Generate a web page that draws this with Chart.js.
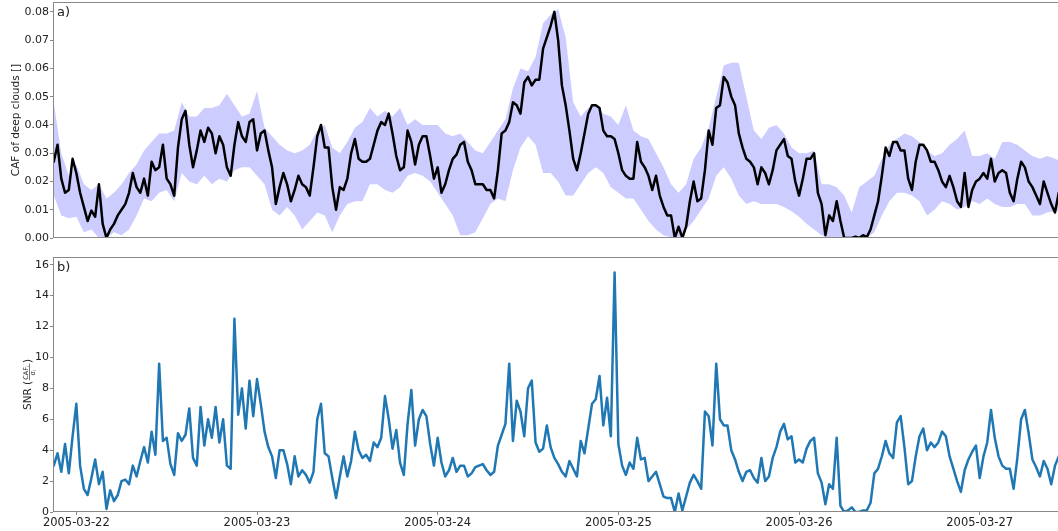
<!DOCTYPE html>
<html>
<head>
<meta charset="utf-8">
<script src="https://cdn.jsdelivr.net/npm/chart.js@4.4.1/dist/chart.umd.min.js"></script>
<style>
  html, body { margin: 0; padding: 0; background: #fff; }
  #wrap { position: relative; width: 1058px; height: 531px; overflow: hidden; }
  canvas { position: absolute; left: 0; }
</style>
</head>
<body>
<div id="wrap">
  <canvas id="cafChart" width="1058" height="266" style="top:0"></canvas>
  <canvas id="snrChart" width="1058" height="281" style="top:250px"></canvas>
</div>
<script>
// hours counted from 2005-03-22 00:00
const firstHour = -3;
const lineStep = 0.5;   // mean CAF and SNR: every 30 min
const bandStep = 1;     // spread band: hourly

// mean CAF of deep clouds (black line)
const cafMean = [
  0.027, 0.033, 0.021, 0.016, 0.017, 0.028, 0.023, 0.016, 0.011, 0.006,
  0.0097, 0.0075, 0.019, 0.005, 0.000, 0.003, 0.005, 0.008, 0.010, 0.012,
  0.016, 0.023, 0.018, 0.016, 0.021, 0.015, 0.027, 0.024, 0.025, 0.033,
  0.021, 0.019, 0.015, 0.032, 0.042, 0.045, 0.033, 0.025, 0.031, 0.038,
  0.034, 0.039, 0.037, 0.030, 0.036, 0.033, 0.025, 0.022, 0.033, 0.041,
  0.036, 0.034, 0.041, 0.042, 0.031, 0.037, 0.038, 0.031, 0.025, 0.012,
  0.018, 0.023, 0.019, 0.013, 0.017, 0.022, 0.019, 0.018, 0.015, 0.025,
  0.036, 0.040, 0.032, 0.032, 0.018, 0.010, 0.018, 0.017, 0.021, 0.030,
  0.035, 0.028, 0.027, 0.027, 0.028, 0.033, 0.038, 0.041, 0.040, 0.044,
  0.037, 0.029, 0.024, 0.025, 0.038, 0.034, 0.026, 0.033, 0.036, 0.036,
  0.029, 0.021, 0.025, 0.016, 0.019, 0.024, 0.028, 0.0295, 0.033, 0.034,
  0.027, 0.024, 0.019, 0.019, 0.019, 0.017, 0.017, 0.014, 0.024, 0.037,
  0.038, 0.041, 0.048, 0.047, 0.044, 0.055, 0.057, 0.054, 0.056, 0.056,
  0.067, 0.071, 0.075, 0.080, 0.070, 0.054, 0.047, 0.038, 0.028, 0.024,
  0.030, 0.037, 0.044, 0.047, 0.047, 0.046, 0.038, 0.036, 0.036, 0.035,
  0.030, 0.024, 0.022, 0.021, 0.021, 0.034, 0.027, 0.025, 0.022, 0.017,
  0.022, 0.015, 0.011, 0.008, 0.008, 0.000, 0.004, 0.000, 0.004, 0.013,
  0.020, 0.013, 0.014, 0.024, 0.038, 0.033, 0.046, 0.047, 0.057, 0.055,
  0.050, 0.047, 0.037, 0.032, 0.028, 0.027, 0.025, 0.019, 0.025, 0.023,
  0.019, 0.024, 0.031, 0.033, 0.035, 0.029, 0.028, 0.020, 0.015, 0.021,
  0.028, 0.028, 0.030, 0.016, 0.012, 0.001, 0.008, 0.006, 0.013, 0.006,
  0.000, 0.000, 0.000, 0.0005, 0.000, 0.001, 0.0003, 0.003, 0.008, 0.013,
  0.022, 0.032, 0.029, 0.034, 0.034, 0.031, 0.031, 0.021, 0.017, 0.027,
  0.033, 0.033, 0.031, 0.027, 0.027, 0.024, 0.020, 0.018, 0.022, 0.018,
  0.013, 0.011, 0.023, 0.011, 0.017, 0.020, 0.021, 0.023, 0.021, 0.028,
  0.020, 0.023, 0.024, 0.023, 0.016, 0.013, 0.021, 0.027, 0.025, 0.020,
  0.018, 0.015, 0.012, 0.020, 0.016, 0.012, 0.009, 0.016, 0.016
];

// spread band of CAF (light blue)
const cafUpper = [
  0.048, 0.030, 0.022, 0.026, 0.019, 0.017, 0.019, 0.014, 0.016, 0.019,
  0.023, 0.026, 0.031, 0.034, 0.037, 0.037, 0.038, 0.048, 0.043, 0.043,
  0.046, 0.046, 0.047, 0.051, 0.047, 0.043, 0.044, 0.052, 0.039, 0.036,
  0.033, 0.031, 0.030, 0.031, 0.033, 0.038, 0.040, 0.032, 0.030, 0.034,
  0.039, 0.041, 0.046, 0.043, 0.045, 0.043, 0.046, 0.040, 0.042, 0.040,
  0.040, 0.040, 0.037, 0.036, 0.037, 0.034, 0.031, 0.030, 0.034, 0.038,
  0.042, 0.053, 0.060, 0.059, 0.064, 0.076, 0.079, 0.081, 0.071, 0.048,
  0.043, 0.046, 0.047, 0.044, 0.043, 0.040, 0.047, 0.038, 0.036, 0.035,
  0.030, 0.025, 0.019, 0.016, 0.019, 0.028, 0.032, 0.039, 0.050, 0.061,
  0.062, 0.062, 0.050, 0.038, 0.035, 0.039, 0.040, 0.037, 0.032, 0.030,
  0.030, 0.031, 0.019, 0.019, 0.018, 0.015, 0.009, 0.018, 0.020, 0.022,
  0.028, 0.033, 0.035, 0.037, 0.036, 0.034, 0.031, 0.029, 0.030, 0.033,
  0.035, 0.038, 0.029, 0.029, 0.030, 0.028, 0.034, 0.034, 0.033, 0.031,
  0.029, 0.028, 0.029, 0.028, 0.027
];
const cafLower = [
  0.015, 0.008, 0.007, 0.0075, 0.002, 0.003, 0.000, 0.000, 0.002, 0.001,
  0.003, 0.008, 0.014, 0.013, 0.016, 0.017, 0.013, 0.023, 0.020, 0.019,
  0.022, 0.019, 0.021, 0.020, 0.024, 0.025, 0.025, 0.022, 0.019, 0.010,
  0.008, 0.011, 0.008, 0.003, 0.006, 0.009, 0.008, 0.002, 0.008, 0.012,
  0.013, 0.013, 0.019, 0.019, 0.017, 0.016, 0.018, 0.022, 0.023, 0.022,
  0.020, 0.016, 0.012, 0.008, 0.001, 0.001, 0.002, 0.007, 0.012, 0.014,
  0.013, 0.024, 0.032, 0.036, 0.033, 0.023, 0.023, 0.020, 0.015, 0.015,
  0.019, 0.023, 0.025, 0.023, 0.018, 0.016, 0.014, 0.014, 0.010, 0.006,
  0.003, 0.001, 0.0003, 0.000, 0.003, 0.006, 0.010, 0.014, 0.022, 0.025,
  0.021, 0.015, 0.012, 0.013, 0.012, 0.012, 0.012, 0.011, 0.0095, 0.0075,
  0.005, 0.003, 0.001, 0.000, 0.000, 0.000, 0.000, 0.000, 0.000, 0.002,
  0.008, 0.013, 0.016, 0.016, 0.015, 0.013, 0.008, 0.010, 0.013, 0.012,
  0.010, 0.011, 0.013, 0.012, 0.014, 0.012, 0.011, 0.011, 0.012, 0.012,
  0.008, 0.008, 0.009, 0.0095, 0.0095
];

// signal to noise ratio (blue line)
const snr = [
  3.0, 3.8, 2.6, 4.4, 2.5, 4.9, 7.0, 3.0, 1.5, 1.1,
  2.2, 3.4, 1.8, 2.6, 0.2, 1.4, 0.7, 1.1, 2.0, 2.1,
  1.8, 3.0, 2.3, 3.3, 4.2, 3.2, 5.2, 3.7, 9.6, 4.6,
  4.8, 3.1, 2.4, 5.1, 4.6, 5.0, 6.7, 3.5, 3.0, 6.8,
  4.3, 6.0, 4.8, 6.8, 4.5, 6.0, 3.0, 2.8, 12.5, 6.3,
  8.0, 5.4, 8.5, 6.2, 8.6, 7.0, 5.2, 4.2, 3.6, 2.2,
  4.0, 4.0, 3.1, 1.8, 3.6, 2.3, 2.7, 2.4, 1.9, 2.6,
  6.0, 7.0, 3.8, 3.6, 2.2, 0.9, 2.3, 3.6, 2.3, 3.3,
  5.2, 4.0, 3.5, 3.7, 3.3, 4.5, 4.2, 4.8, 7.5, 6.0,
  4.1, 5.3, 3.2, 2.4, 5.7, 7.9, 4.3, 6.0, 6.6, 6.2,
  4.4, 3.0, 4.8, 3.2, 2.3, 2.7, 3.5, 2.6, 3.0, 3.0,
  2.3, 2.5, 2.9, 3.0, 3.1, 2.7, 2.4, 2.6, 4.3, 5.0,
  5.7, 9.6, 4.6, 7.2, 6.5, 4.9, 8.0, 8.5, 4.5, 3.9,
  4.1, 5.6, 4.2, 3.5, 3.1, 2.6, 2.3, 3.3, 2.8, 2.3,
  4.6, 3.8, 5.4, 7.0, 7.3, 8.8, 5.6, 7.4, 4.9, 15.5,
  4.4, 3.0, 2.4, 3.2, 2.8, 4.8, 3.4, 3.5, 2.0, 2.3,
  2.6, 1.8, 1.0, 0.9, 0.9, 0.0, 1.2, 0.1, 1.0, 1.9,
  2.4, 2.0, 1.5, 6.5, 6.2, 4.3, 9.6, 6.0, 5.6, 5.6,
  4.0, 3.4, 2.6, 2.0, 2.6, 2.7, 2.2, 1.9, 3.5, 2.0,
  2.3, 3.5, 4.2, 5.2, 5.7, 4.7, 4.9, 3.2, 3.4, 3.2,
  4.1, 4.6, 4.8, 2.5, 1.9, 0.5, 1.8, 1.5, 4.8, 0.4,
  0.0, 0.1, 0.3, 0.0, 0.0, 0.1, 0.1, 0.6, 2.5, 2.8,
  3.6, 4.6, 3.8, 3.5, 5.8, 6.2, 4.2, 1.8, 2.0, 3.6,
  4.9, 5.4, 4.0, 4.5, 4.2, 4.5, 5.2, 4.9, 3.6, 2.8,
  2.0, 1.3, 2.7, 3.4, 3.9, 4.3, 2.2, 3.6, 4.5, 6.6,
  4.8, 3.6, 3.0, 2.8, 2.8, 1.5, 3.5, 6.0, 6.6, 5.1,
  3.4, 2.9, 2.3, 3.3, 2.8, 1.8, 3.0, 3.6, 3.6
];

const dayLabels = ['2005-03-22', '2005-03-23', '2005-03-24', '2005-03-25', '2005-03-26', '2005-03-27'];

const lineHours = cafMean.map((_, i) => firstHour + i * lineStep);
const bandHours = cafUpper.map((_, i) => firstHour + i * bandStep);
const toPoints = (vals, xs) => vals.map((v, i) => ({ x: xs[i], y: v }));

const FONT = 'DejaVu Sans';
const TXT = '#222';
const AXIS = '#888';

// frame, panel letter and y label
function decor(panel, drawTitle) {
    return {
        id: 'decor',
        afterDraw(chart) {
            const { ctx, chartArea: a } = chart;
            ctx.save();
            ctx.strokeStyle = AXIS;
            ctx.lineWidth = 1;
            ctx.strokeRect(Math.round(a.left) + 0.5, Math.round(a.top) + 0.5,
                Math.round(a.right - a.left) + 2, Math.round(a.bottom - a.top) - 1);
            ctx.fillStyle = TXT;
            ctx.font = '13px "' + FONT + '"';
            ctx.textBaseline = 'alphabetic';
            ctx.textAlign = 'left';
            ctx.fillText(panel, a.left + 4, a.top + 14);
            drawTitle(ctx, a);
            ctx.restore();
        }
    };
}

function cafTitle(ctx, a) {
    ctx.translate(19, (a.top + a.bottom) / 2);
    ctx.rotate(-Math.PI / 2);
    ctx.font = '10.5px "' + FONT + '"';
    ctx.textAlign = 'center';
    ctx.fillText('CAF of deep clouds []', 0, 0);
}

function snrTitle(ctx, a) {
    ctx.translate(30.5, (a.top + a.bottom) / 2);
    ctx.rotate(-Math.PI / 2);
    ctx.textAlign = 'left';
    const big = '10.5px "' + FONT + '"';
    const small = '6.5px "' + FONT + '"';
    const tiny = '4.5px "' + FONT + '"';
    ctx.font = big;
    const w1 = ctx.measureText('SNR (').width;
    const w3 = ctx.measureText(')').width;
    ctx.font = small;
    const wNum = ctx.measureText('CAF').width + 3;
    const wDen = ctx.measureText('σ').width + 3;
    const wf = Math.max(wNum, wDen) + 2;
    let x = -(w1 + wf + w3) / 2;
    ctx.font = big;
    ctx.fillText('SNR (', x, 0);
    x += w1;
    ctx.font = small;
    const nx = x + (wf - wNum) / 2;
    ctx.fillText('CAF', nx, -2.5);
    const dx = x + (wf - wDen) / 2;
    ctx.fillText('σ', dx, 4.5);
    ctx.font = tiny;
    ctx.fillText('i', nx + wNum - 3, -1.5);
    ctx.fillText('i', dx + wDen - 3, 5.5);
    ctx.fillRect(x + 0.5, -1.5, wf - 1, 0.6);
    x += wf;
    ctx.font = big;
    ctx.fillText(')', x, 0);
}

const baseOptions = (yMin, yMax, yStep, digits, xVisible) => ({
    responsive: false,
    animation: false,
    events: [],
    layout: { autoPadding: false, padding: xVisible ? { top: 7 } : { top: 2, bottom: 9 } },
    plugins: { legend: { display: false }, tooltip: { enabled: false } },
    elements: { point: { radius: 0 }, line: { tension: 0, borderJoinStyle: 'round', borderCapStyle: 'round' } },
    scales: {
        x: {
            type: 'linear',
            min: -3.1,
            max: 130.4,
            display: xVisible,
            border: { display: false },
            grid: { display: true, drawOnChartArea: false, drawTicks: true, tickLength: 3, color: AXIS },
            afterBuildTicks: s => { s.ticks = dayLabels.map((_, i) => ({ value: 24 * i })); },
            afterFit: s => { s.height = 19; s.paddingLeft = 0; s.paddingRight = 0; },
            ticks: {
                autoSkip: false,
                maxRotation: 0,
                padding: 1,
                color: TXT,
                font: { family: FONT, size: 11.5 },
                callback: v => dayLabels[Math.round(v / 24)]
            }
        },
        y: {
            min: yMin,
            max: yMax,
            border: { display: false },
            grid: { display: true, drawOnChartArea: false, drawTicks: true, tickLength: 3, color: AXIS },
            afterFit: s => { s.width = 53; s.paddingTop = 0; s.paddingBottom = 0; },
            ticks: {
                stepSize: yStep,
                includeBounds: false,
                padding: 1,
                color: TXT,
                font: { family: FONT, size: 11 },
                callback: v => v.toFixed(digits)
            }
        }
    }
});

new Chart(document.getElementById('cafChart'), {
    type: 'line',
    data: {
        datasets: [
            { data: toPoints(cafMean, lineHours), borderColor: '#000', borderWidth: 2.5, fill: false },
            { data: toPoints(cafUpper, bandHours), borderWidth: 0, borderColor: 'rgba(0,0,0,0)', backgroundColor: 'rgba(0,0,255,0.2)', fill: '+1' },
            { data: toPoints(cafLower, bandHours), borderWidth: 0, borderColor: 'rgba(0,0,0,0)', fill: false }
        ]
    },
    options: baseOptions(0, 0.0835, 0.01, 2, false),
    plugins: [decor('a)', cafTitle)]
});

new Chart(document.getElementById('snrChart'), {
    type: 'line',
    data: {
        datasets: [
            { data: toPoints(snr, lineHours), borderColor: '#1f77b4', borderWidth: 2.5, fill: false }
        ]
    },
    options: baseOptions(0, 16.5, 2, 0, true),
    plugins: [decor('b)', snrTitle)]
});
</script>
</body>
</html>
